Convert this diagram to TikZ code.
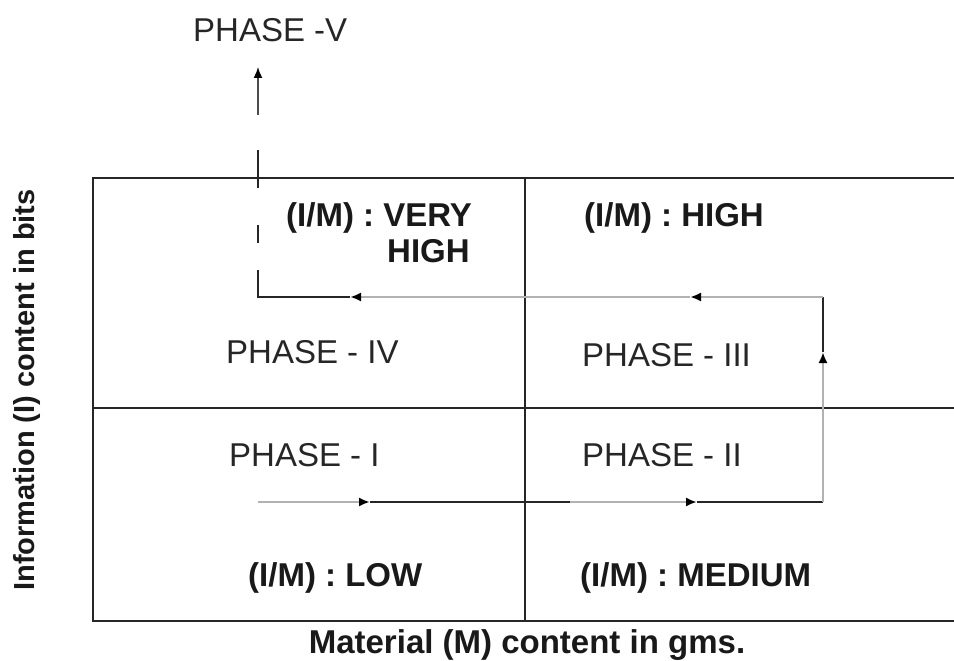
\documentclass[tikz,border=0pt]{standalone}
\usepackage{fontspec}
\setmainfont{Liberation Sans}
\usetikzlibrary{arrows.meta}
\begin{document}
\begin{tikzpicture}[x=1pt,y=-1pt,
  grid/.style={line width=2pt, black!85},
  blk/.style={line width=1.8pt, black!85},
  gry/.style={line width=2.5pt, black!30},
  thin/.style={line width=1.6pt, black!70},
  tip/.style={-{Latex[length=11pt,width=9pt,color=black]}},
  lbl/.style={font=\fontsize{33}{35}\selectfont, text=black!85, inner sep=0pt},
  blbl/.style={font=\bfseries\fontsize{33}{35}\selectfont, text=black!90, inner sep=0pt}]
\useasboundingbox[fill=white] (0,0) rectangle (954,661);

% quadrant frame (open on the right)
\coordinate (tl) at (93,178);
\coordinate (bl) at (93,621);
\coordinate (tr) at (954,178);
\coordinate (br) at (954,621);
\coordinate (ml) at (93,408);
\coordinate (mr) at (954,408);
\coordinate (mt) at (525,178);
\coordinate (mb) at (525,621);
\draw[grid] (tr) -- (tl) -- (bl) -- (br);
\draw[grid] (ml) -- (mr);
\draw[grid] (mt) -- (mb);

% path through the phases
\coordinate (s)  at (258,502);
\coordinate (a1) at (370,502);
\coordinate (b1) at (570,502);
\coordinate (a2) at (697,502);
\coordinate (c1) at (823,502);
\coordinate (a3) at (823,352);
\coordinate (c2) at (823,297);
\coordinate (a4) at (690,297);
\coordinate (a5) at (350,297);
\coordinate (c3) at (258,297);
\coordinate (d0) at (258,270);
\coordinate (d1) at (258,243);
\coordinate (d2) at (258,225);
\coordinate (d3) at (258,188);
\coordinate (d4) at (258,150);
\coordinate (e0) at (258,115);
\coordinate (e1) at (258,67);

\draw[gry, tip] (s) -- (a1);
\draw[blk] (a1) -- (b1);
\draw[gry, tip] (b1) -- (a2);
\draw[blk] (a2) -- (c1);
\draw[gry, tip] (c1) -- (a3);
\draw[blk] (a3) -- (c2);
\draw[gry, tip] (c2) -- (a4);
\draw[gry, tip] (a4) -- (a5);
\draw[blk] (a5) -- (c3) -- (d0);
\draw[blk] (d1) -- (d2);
\draw[blk] (d3) -- (d4);
\draw[thin, tip] (e0) -- (e1);

% labels
\node[lbl, anchor=west] (p5) at (193,30) {PHASE -V};
\node[blbl, anchor=west] (vh) at (286,218) {(I/M) : VERY};
\node[blbl, anchor=west] (vh2) at (387,251) {HIGH};
\node[blbl, anchor=west] (hi) at (584,218) {(I/M) : HIGH};
\node[lbl, anchor=west] (p4) at (226,352) {PHASE - IV};
\node[lbl, anchor=west] (p3) at (582,355) {PHASE - III};
\node[lbl, anchor=west] (p1) at (229,455) {PHASE - I};
\node[lbl, anchor=west] (p2) at (582,455) {PHASE - II};
\node[blbl, anchor=west] (lo) at (248,578) {(I/M) : LOW};
\node[blbl, anchor=west] (me) at (580,578) {(I/M) : MEDIUM};
\node[font=\bfseries\fontsize{29}{31}\selectfont, text=black!90, inner sep=0pt, rotate=90] (ya) at (27,390) {Information (I) content in bits};
\node[blbl] (xa) at (527,645) {Material (M) content in gms.};
\end{tikzpicture}
\end{document}
